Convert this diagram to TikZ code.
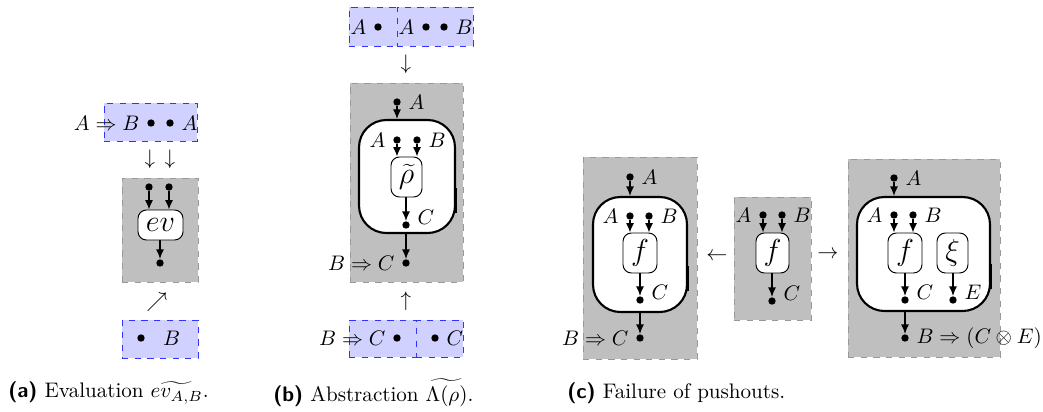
\documentclass[tikz,border=0pt]{standalone}
\usetikzlibrary{arrows.meta,fit}
\begin{document}
\begin{tikzpicture}[
            x=0.475pt, y=-0.475pt,
            dot/.style={circle, fill, inner sep=0pt, minimum size=3.5pt},
            wire/.style={-{Latex[length=4.5pt,width=3.8pt]}, line width=.6pt},
            gen/.style={draw, fill=white, rounded corners=4pt, inner sep=0pt, line width=.45pt},
            shell/.style={draw, fill=white, rounded corners=13pt, inner sep=0pt, line width=1pt},
            graph/.style={draw=gray!80, fill=gray!50, dashed, inner sep=0pt},
            iface/.style={draw=blue!80, fill=blue!18, dashed, inner sep=0pt},
            caption/.style={anchor=west, inner sep=0pt},
            ]
        \useasboundingbox (0,0) rectangle (1043,411);

        % (a) evaluation
        \node[iface, fit={(104,103) (197,141)}] (aTop) {};
        \node[dot, label={left:$A \Rightarrow B$}] (aT1) at (151,123) {};
        \node[dot, label={right:$A$}] (aT2) at (170,123) {};
        \node at (150,159) {$\downarrow$};
        \node at (170,159) {$\downarrow$};
        \node[graph, fit={(122,178) (198,282)}] (aG) {};
        \node[dot] (aIn1) at (149,187) {};
        \node[dot] (aIn2) at (169,187) {};
        \node[gen, fit={(138,210) (183,240)}, label=center:{\Large$ev$}] (aEv) {};
        \node[dot] (aOut) at (160,263) {};
        \draw[wire] (aIn1) -- (aIn1 |- aEv.north);
        \draw[wire] (aIn2) -- (aIn2 |- aEv.north);
        \draw[wire] (aEv.south -| aOut) -- (aOut);
        \node at (157,302) {$\nearrow$};
        \node[iface, fit={(122,320) (198,358)}] (aBot) {};
        \node[dot, label={[label distance=5pt]right:$B$}] (aB1) at (141,338) {};
        \node[caption] (aCap) at (8,393) {\textsf{\textbf{(a)}} Evaluation $\widetilde{ev_{A,B}}$.};

        % (b) abstraction
        \node[iface, fit={(349,7) (397,46)}] (bTop1) {};
        \node[iface, fit={(397,7) (473,46)}] (bTop2) {};
        \node[dot, label={left:$A$}] (bT1) at (378,27) {};
        \node[dot, label={left:$A$}] (bT2) at (426,27) {};
        \node[dot, label={right:$B$}] (bT3) at (444,27) {};
        \node at (406,64) {$\downarrow$};
        \node[graph, fit={(350,83) (463,282)}] (bG) {};
        \node[shell, fit={(359,120) (455,233)}] (bShell) {};
        \draw[line width=1.2pt] (bShell.east |- 0,213) -- ++(0,-25);
        \node[dot, label={right:$A$}] (bIn) at (397,102) {};
        \node[dot, label={left:$A$}] (bA) at (397,140) {};
        \node[dot, label={right:$B$}] (bB) at (417,140) {};
        \node[gen, fit={(391,157) (422,197)}, label=center:{\Large$\widetilde{\rho}$}] (bRho) {};
        \node[dot, label={[yshift=3.5pt]right:$C$}] (bC) at (406,225) {};
        \node[dot, label={left:$B \Rightarrow C$}] (bOut) at (406,263) {};
        \draw[wire] (bIn) -- (bIn |- bShell.north);
        \draw[wire] (bA) -- (bA |- bRho.north);
        \draw[wire] (bB) -- (bB |- bRho.north);
        \draw[wire] (bRho.south -| bC) -- (bC);
        \draw[wire] (bShell.south -| bOut) -- (bOut);
        \node at (406,301) {$\uparrow$};
        \node[iface, fit={(349,320) (416,357)}] (bBot1) {};
        \node[iface, fit={(416,320) (463,357)}] (bBot2) {};
        \node[dot, label={left:$B \Rightarrow C$}] (bB1) at (397,338) {};
        \node[dot, label={right:$C$}] (bB2) at (435,338) {};
        \node[caption] (bCap) at (273,393) {\textsf{\textbf{(b)}} Abstraction $\widetilde{\Lambda(\rho)}$.};

        % (c) failure of pushouts
        \node[graph, fit={(583,157) (697,359)}] (cL) {};
        \node[shell, fit={(593,197) (687,312)}] (cLshell) {};
        \draw[line width=1.2pt] (cLshell.east |- 0,291) -- ++(0,-25);
        \node[dot, label={right:$A$}] (cLin) at (630,177) {};
        \node[dot, label={left:$A$}] (cLa) at (630,216) {};
        \node[dot, label={right:$B$}] (cLb) at (649,216) {};
        \node[gen, fit={(623,233) (657,273)}, label=center:{\Large$f$}] (cLf) {};
        \node[dot, label={[yshift=3.5pt]right:$C$}] (cLc) at (640,300) {};
        \node[dot, label={left:$B \Rightarrow C$}] (cLout) at (640,338) {};
        \draw[wire] (cLin) -- (cLin |- cLshell.north);
        \draw[wire] (cLa) -- (cLa |- cLf.north);
        \draw[wire] (cLb) -- (cLb |- cLf.north);
        \draw[wire] (cLf.south -| cLc) -- (cLc);
        \draw[wire] (cLshell.south -| cLout) -- (cLout);
        \node at (717,257) {$\leftarrow$};

        \node[graph, fit={(734,197) (811,320)}] (cM) {};
        \node[dot, label={left:$A$}] (cMa) at (763,215) {};
        \node[dot, label={right:$B$}] (cMb) at (782,215) {};
        \node[gen, fit={(756,233) (789,273)}, label=center:{\Large$f$}] (cMf) {};
        \node[dot, label={[yshift=3.5pt]right:$C$}] (cMc) at (772,301) {};
        \draw[wire] (cMa) -- (cMa |- cMf.north);
        \draw[wire] (cMb) -- (cMb |- cMf.north);
        \draw[wire] (cMf.south -| cMc) -- (cMc);
        \node at (828,255) {$\rightarrow$};

        \node[graph, fit={(848,159) (1000,357)}] (cR) {};
        \node[shell, fit={(857,197) (990,311)}] (cRshell) {};
        \draw[line width=1.2pt] (cRshell.east |- 0,289) -- ++(0,-25);
        \node[dot, label={right:$A$}] (cRin) at (894,178) {};
        \node[dot, label={left:$A$}] (cRa) at (894,215) {};
        \node[dot, label={right:$B$}] (cRb) at (913,215) {};
        \node[gen, fit={(888,233) (922,273)}, label=center:{\Large$f$}] (cRf) {};
        \node[gen, fit={(937,233) (968,273)}, label=center:{\Large$\xi$}] (cRxi) {};
        \node[dot, label={[yshift=3.5pt]right:$C$}] (cRc) at (905,300) {};
        \node[dot, label={[yshift=3.5pt]right:$E$}] (cRe) at (953,300) {};
        \node[dot, label={right:$B \Rightarrow (C \otimes E)$}] (cRout) at (905,338) {};
        \draw[wire] (cRin) -- (cRin |- cRshell.north);
        \draw[wire] (cRa) -- (cRa |- cRf.north);
        \draw[wire] (cRb) -- (cRb |- cRf.north);
        \draw[wire] (cRf.south -| cRc) -- (cRc);
        \draw[wire] (cRxi.south -| cRe) -- (cRe);
        \draw[wire] (cRshell.south -| cRout) -- (cRout);
        \node[caption] (cCap) at (567,393) {\textsf{\textbf{(c)}} Failure of pushouts.};
    \end{tikzpicture}
\end{document}
